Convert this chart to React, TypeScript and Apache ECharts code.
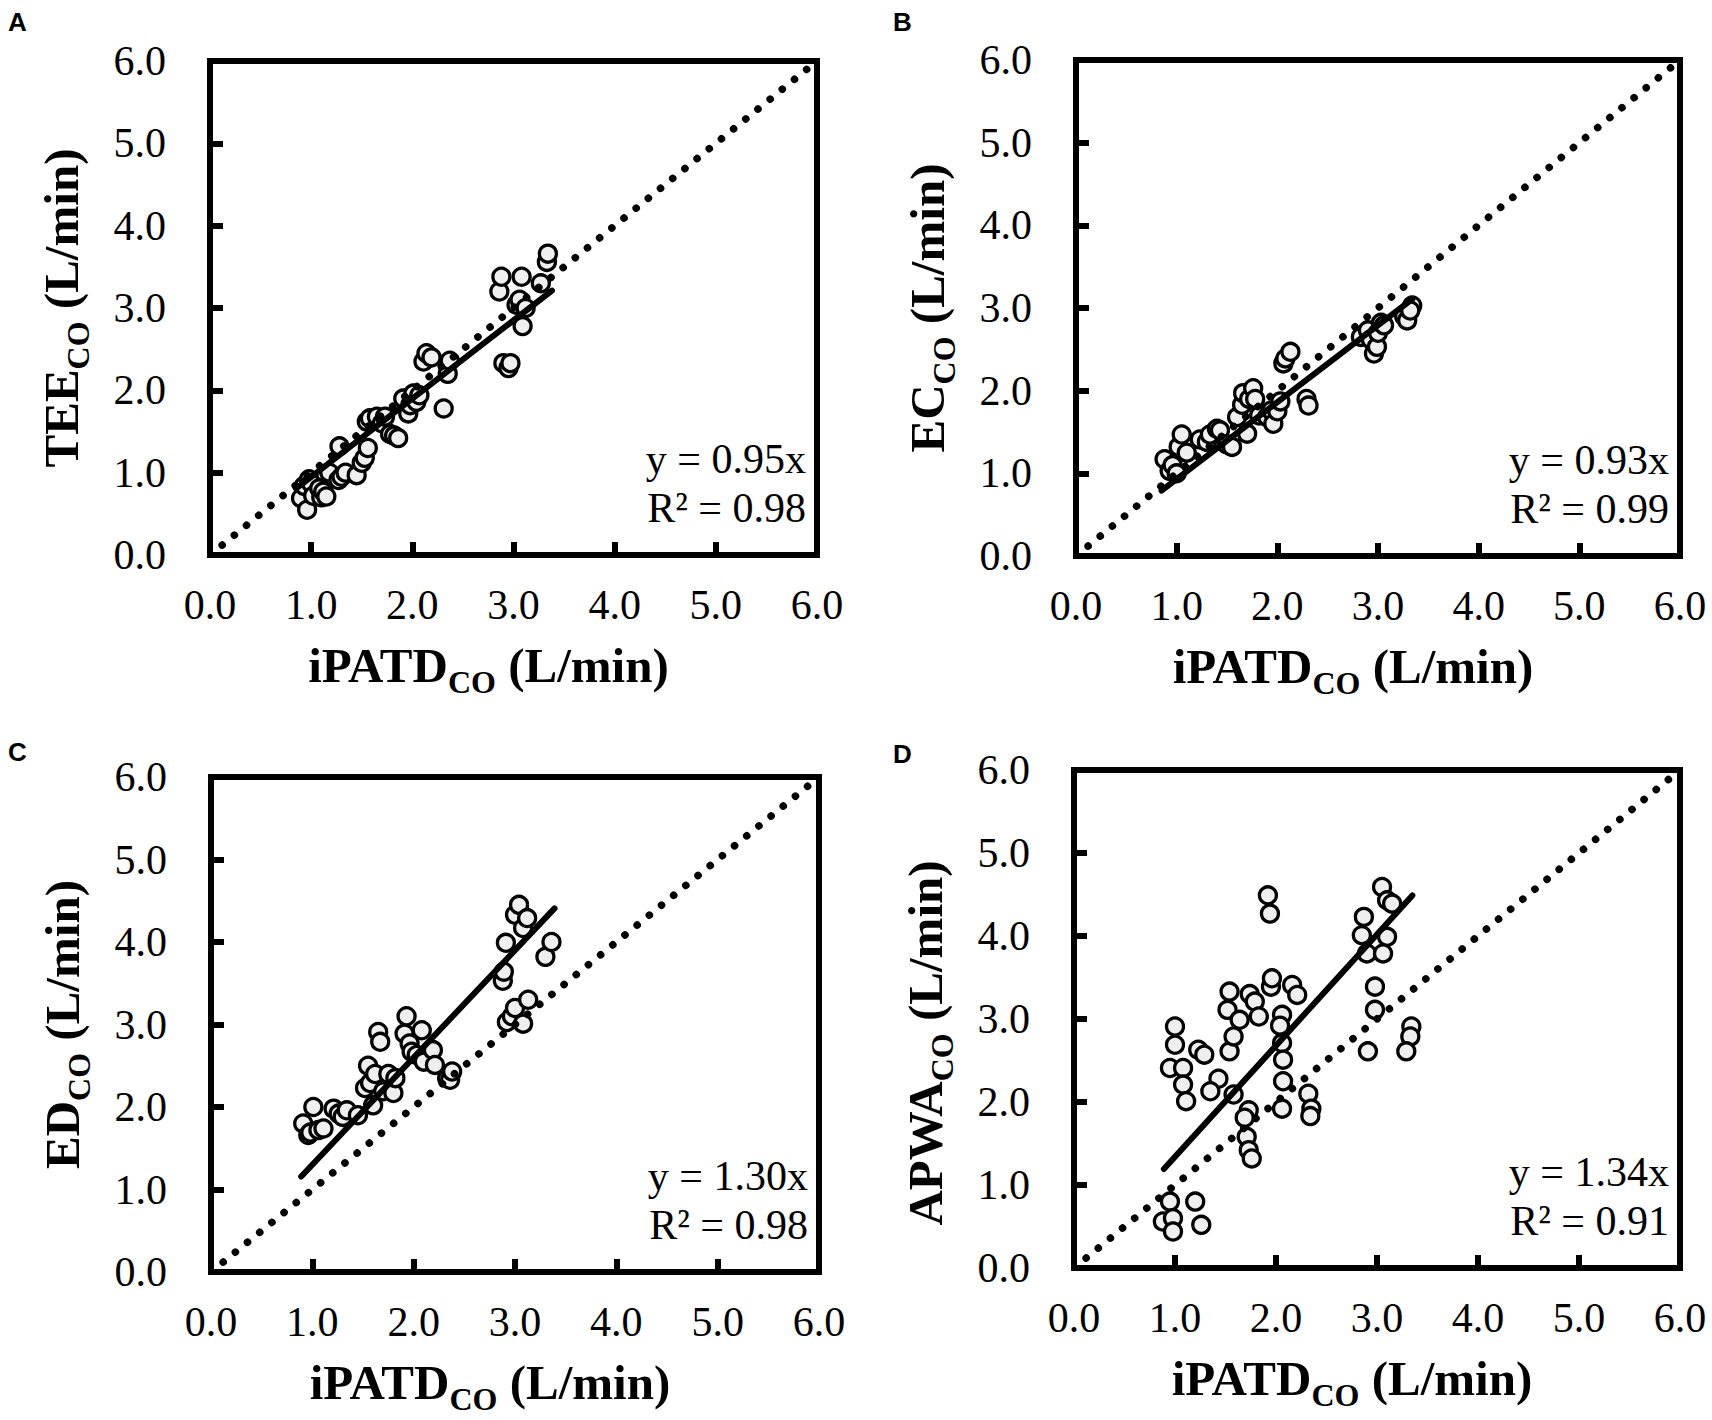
import React, { useEffect, useRef } from "react";
import * as echarts from "echarts";

// ---- data ----
const panelLetters = ["A", "B", "C", "D"];
const yTitleMain = ["TEE", "EC", "ED", "APWA"];
const xTitleMain = "iPATD";
const subscript = "CO";
const unitText = " (L/min)";
const axisTicks = [0, 1, 2, 3, 4, 5, 6];
const slopes = [0.95, 0.93, 1.3, 1.34];
const slopeLabels = ["y = 0.95x", "y = 0.93x", "y = 1.30x", "y = 1.34x"];
const r2Labels = ["R² = 0.98", "R² = 0.99", "R² = 0.98", "R² = 0.91"];
const fitRanges = [
  [0.85, 3.38],
  [0.85, 3.34],
  [0.89, 3.39],
  [0.89, 3.35],
];
const identityLine = [
  [0.12, 0.12],
  [5.93, 5.93],
];

const teePoints = [
  [0.9, 0.69], [0.93, 0.84], [0.96, 0.55], [0.98, 0.92], [1.0, 0.87], [1.02, 0.72],
  [1.08, 0.81], [1.1, 0.7], [1.12, 0.77], [1.15, 0.71], [1.18, 1.0], [1.27, 0.91],
  [1.28, 1.32], [1.3, 0.95], [1.34, 1.0], [1.45, 0.97], [1.5, 1.12], [1.53, 1.18],
  [1.56, 1.3], [1.55, 1.62], [1.58, 1.66], [1.65, 1.68], [1.7, 1.6], [1.73, 1.68],
  [1.78, 1.47], [1.82, 1.45], [1.86, 1.42], [1.91, 1.9], [1.96, 1.72], [1.98, 1.82],
  [2.01, 1.96], [2.04, 1.86], [2.07, 1.94], [2.11, 2.35], [2.14, 2.45], [2.19, 2.4],
  [2.31, 1.78], [2.35, 2.2], [2.37, 2.36], [2.86, 3.2], [2.88, 3.38], [2.9, 2.33],
  [2.95, 2.27], [2.97, 2.33], [3.03, 3.04], [3.06, 3.1], [3.08, 3.38], [3.09, 2.78],
  [3.12, 3.0], [3.27, 3.3], [3.33, 3.56], [3.34, 3.66],
];

const ecPoints = [
  [0.88, 1.17], [0.93, 1.03], [0.96, 1.1], [1.0, 1.0], [1.02, 1.32], [1.05, 1.47],
  [1.1, 1.25], [1.23, 1.41], [1.3, 1.38], [1.33, 1.47], [1.4, 1.54], [1.43, 1.52],
  [1.5, 1.35], [1.55, 1.32], [1.6, 1.68], [1.65, 1.83], [1.66, 1.97], [1.7, 1.48],
  [1.72, 1.9], [1.76, 2.03], [1.78, 1.9], [1.82, 1.7], [1.9, 1.68], [1.94, 1.76],
  [1.96, 1.6], [2.0, 1.75], [2.03, 1.87], [2.06, 2.33], [2.08, 2.39], [2.13, 2.47],
  [2.29, 1.9], [2.31, 1.82], [2.83, 2.65], [2.9, 2.73], [2.93, 2.62], [2.96, 2.45],
  [2.99, 2.53], [3.0, 2.7], [3.03, 2.82], [3.06, 2.79], [3.26, 2.9], [3.29, 2.85],
  [3.34, 3.03], [3.32, 2.97],
];

const edPoints = [
  [0.91, 1.8], [0.96, 1.66], [0.98, 1.69], [1.01, 2.0], [1.06, 1.72], [1.11, 1.74],
  [1.21, 1.98], [1.26, 1.92], [1.3, 1.88], [1.34, 1.96], [1.45, 1.9], [1.52, 2.23],
  [1.55, 2.5], [1.57, 2.29], [1.6, 2.02], [1.62, 2.4], [1.65, 2.91], [1.67, 2.79],
  [1.7, 2.19], [1.75, 2.4], [1.8, 2.17], [1.82, 2.35], [1.91, 2.89], [1.93, 3.1],
  [1.96, 2.77], [1.98, 2.67], [2.03, 2.63], [2.08, 2.93], [2.1, 2.55], [2.19, 2.69],
  [2.21, 2.51], [2.33, 2.35], [2.36, 2.33], [2.38, 2.43], [2.88, 3.53], [2.89, 3.64],
  [2.91, 3.99], [2.92, 3.03], [2.97, 3.1], [3.0, 3.2], [3.0, 4.33], [3.04, 4.45],
  [3.08, 3.01], [3.08, 4.17], [3.12, 4.29], [3.13, 3.3], [3.3, 3.82], [3.36, 4.0],
];

const apwaPoints = [
  [0.88, 0.56], [0.95, 0.8], [0.98, 0.6], [0.98, 0.44], [1.2, 0.8], [1.26, 0.52],
  [1.0, 2.91], [1.0, 2.69], [0.95, 2.41], [1.08, 2.41], [1.08, 2.21], [1.11, 2.01],
  [1.23, 2.63], [1.29, 2.57], [1.43, 2.28], [1.35, 2.13], [1.58, 2.09], [1.54, 2.61],
  [1.58, 2.79], [1.54, 3.33], [1.52, 3.11], [1.64, 2.99], [1.74, 3.3], [1.79, 3.21],
  [1.83, 3.03], [1.95, 3.39], [1.96, 3.49], [2.16, 3.41], [2.21, 3.29], [2.06, 3.05],
  [2.04, 2.92], [2.06, 2.71], [2.07, 2.51], [2.07, 2.25], [2.06, 1.92], [2.32, 2.1],
  [2.35, 1.92], [2.34, 1.83], [1.73, 1.9], [1.69, 1.81], [1.71, 1.58], [1.73, 1.42],
  [1.76, 1.32], [1.92, 4.49], [1.94, 4.27], [2.87, 4.23], [2.85, 4.01], [2.9, 3.79],
  [3.05, 4.59], [3.1, 4.43], [3.15, 4.39], [3.1, 3.99], [3.06, 3.79], [2.98, 3.39],
  [2.98, 3.11], [2.91, 2.61], [3.34, 2.91], [3.33, 2.79], [3.29, 2.61],
];

const panelPoints = [teePoints, ecPoints, edPoints, apwaPoints];

// ---- layout ----
const SERIF = "'Times New Roman', 'Liberation Serif', serif";
const SANS = "Arial, 'Liberation Sans', sans-serif";
const grids = [
  { left: 210, top: 61, width: 607, height: 494 },
  { left: 1076, top: 60, width: 604, height: 496 },
  { left: 211, top: 777, width: 608, height: 495 },
  { left: 1074, top: 770, width: 606, height: 498 },
];
const letterPos = [
  [8, 9],
  [893, 9],
  [8, 739],
  [893, 741],
];
// extra padding to shift y titles along the axis (panel D sits lower)
const yTitlePadding = [
  [0, 0, 0, 0],
  [0, 0, 0, 0],
  [0, 0, 0, 0],
  [0, 48, 0, 0],
];

const titleRich = {
  m: { fontSize: 49, fontWeight: "bold", fontFamily: SERIF, lineHeight: 66, color: "#000" },
  s: {
    fontSize: 32,
    fontWeight: "bold",
    fontFamily: SERIF,
    lineHeight: 32,
    verticalAlign: "bottom",
    color: "#000",
  },
};

function axisCommon(i: number) {
  return {
    gridIndex: i,
    type: "value",
    min: axisTicks[0],
    max: axisTicks[axisTicks.length - 1],
    interval: 1,
    axisLine: { show: true, onZero: false, lineStyle: { color: "#000", width: 6 } },
    axisTick: { show: true, inside: true, length: 13, lineStyle: { color: "#000", width: 6 } },
    splitLine: { show: false },
    nameLocation: "middle",
  };
}

export default function App() {
  const ref = useRef<HTMLDivElement>(null);
  useEffect(() => {
    document.body.style.margin = "0";
    if (!ref.current) return;
    const chart = echarts.init(ref.current, undefined, { renderer: "svg" });

    const xAxis = grids.map((_, i) => ({
      ...axisCommon(i),
      axisLabel: {
        color: "#000",
        fontSize: 42,
        fontFamily: SERIF,
        margin: 29,
        formatter: (v: number) => v.toFixed(1),
      },
      name: `{m|${xTitleMain}}{s|${subscript}}{m|${unitText}}`,
      nameGap: 77,
      nameTextStyle: { padding: [0, 50, 0, 0], rich: titleRich },
    }));
    const yAxis = grids.map((_, i) => ({
      ...axisCommon(i),
      axisLabel: {
        color: "#000",
        fontSize: 42,
        fontFamily: SERIF,
        margin: 44,
        formatter: (v: number) => v.toFixed(1),
      },
      name: `{m|${yTitleMain[i]}}{s|${subscript}}{m|${unitText}}`,
      nameRotate: 90,
      nameGap: 116,
      nameTextStyle: { padding: yTitlePadding[i], rich: titleRich },
    }));

    const series: any[] = [];
    panelPoints.forEach((pts, i) => {
      series.push({
        type: "scatter",
        xAxisIndex: i,
        yAxisIndex: i,
        data: pts,
        symbol: "circle",
        symbolSize: 17,
        itemStyle: { color: "#efefef", borderColor: "#000", borderWidth: 3.3, opacity: 1 },
        z: 2,
      });
      series.push({
        type: "line",
        xAxisIndex: i,
        yAxisIndex: i,
        data: identityLine,
        symbol: "none",
        lineStyle: { color: "#000", width: 7.5, type: [0.1, 15.6], cap: "round" },
        z: 3,
      });
      const [a, b] = fitRanges[i];
      series.push({
        type: "line",
        xAxisIndex: i,
        yAxisIndex: i,
        data: [
          [a, slopes[i] * a],
          [b, slopes[i] * b],
        ],
        symbol: "none",
        lineStyle: { color: "#000", width: 6, cap: "round" },
        z: 4,
      });
    });

    const graphic: any[] = [];
    grids.forEach((g, i) => {
      graphic.push({
        type: "text",
        x: letterPos[i][0],
        y: letterPos[i][1],
        style: {
          text: panelLetters[i],
          fontFamily: SANS,
          fontWeight: "bold",
          fontSize: 26,
          fill: "#000",
          verticalAlign: "top",
        },
      });
      graphic.push({
        type: "text",
        x: g.left + g.width - 11,
        y: g.top + g.height - 23,
        z: 10,
        style: {
          text: slopeLabels[i] + "\n" + r2Labels[i],
          fontFamily: SERIF,
          fontSize: 42,
          lineHeight: 49,
          fill: "#000",
          align: "right",
          verticalAlign: "bottom",
        },
      });
    });

    chart.setOption({
      animation: false,
      backgroundColor: "#fff",
      grid: grids.map((g) => ({
        ...g,
        show: true,
        borderColor: "#000",
        borderWidth: 6,
        backgroundColor: "transparent",
      })),
      xAxis,
      yAxis,
      series,
      graphic,
    });
    return () => chart.dispose();
  }, []);
  return <div ref={ref} style={{ width: 1712, height: 1420 }} />;
}
